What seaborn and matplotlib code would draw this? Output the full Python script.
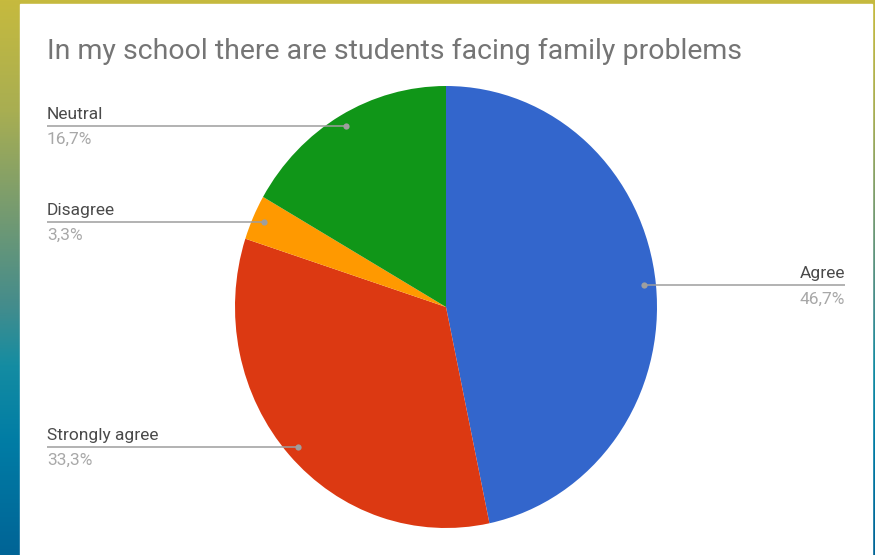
import numpy as np
import matplotlib
matplotlib.use("Agg")
import matplotlib.pyplot as plt
from matplotlib.colors import LinearSegmentedColormap
from matplotlib.patches import Rectangle
import seaborn as sns

# data
categories = ["Agree", "Strongly agree", "Disagree", "Neutral"]
shares = [46.7, 33.3, 3.3, 16.7]
pct_labels = ["46,7%", "33,3%", "3,3%", "16,7%"]
colors = ["#3366cc", "#dc3912", "#ff9900", "#109618"]
title = "In my school there are students facing family problems"

sns.set_theme(style="white")
plt.rcParams['font.family'] = ['Roboto', 'DejaVu Sans']

W, H = 875, 555
fig = plt.figure(figsize=(W / 100, H / 100), dpi=100)

# gradient frame behind the white chart area
bg = fig.add_axes([0, 0, 1, 1], zorder=0)
grad = LinearSegmentedColormap.from_list("frame", [
    (0.0, (198/255, 186/255, 62/255)),
    (0.2, (168/255, 174/255, 82/255)),
    (0.38, (118/255, 155/255, 112/255)),
    (0.55, (68/255, 140/255, 140/255)),
    (0.66, (20/255, 140/255, 162/255)),
    (0.8, (0/255, 124/255, 165/255)),
    (1.0, (0/255, 100/255, 150/255)),
])
bg.imshow(np.linspace(0, 1, 256).reshape(-1, 1), aspect="auto", cmap=grad,
          extent=[0, W, H, 0])
bg.add_patch(Rectangle((20, 4), 852, H - 4, color="white"))
bg.set_xlim(0, W)
bg.set_ylim(H, 0)
bg.axis("off")

# pie axes, placed in pixels (slightly elliptical like the reference)
px0, py0, px1, py1 = 235, 86, 657, 528
ax = fig.add_axes([px0 / W, 1 - py1 / H, (px1 - px0) / W, (py1 - py0) / H], zorder=1)
wedges, _ = ax.pie(shares, colors=colors, startangle=90, counterclock=False,
                   wedgeprops=dict(linewidth=0))
ax.set_xlim(-1, 1)
ax.set_ylim(-1, 1)
ax.set_aspect("auto")
ax.axis("off")

# overlay in pixel coords for labels
ov = fig.add_axes([0, 0, 1, 1], zorder=2)
ov.set_xlim(0, W)
ov.set_ylim(H, 0)
ov.patch.set_alpha(0)
ov.axis("off")

ov.text(47, 51, title, fontsize=20.5, color="#757575", va="center", ha="left")

to_px = ax.transData + ov.transData.inverted()
for w, cat, pct in zip(wedges, categories, pct_labels):
    theta = np.deg2rad((w.theta1 + w.theta2) / 2)
    x, y = to_px.transform((0.945 * np.cos(theta), 0.945 * np.sin(theta)))
    if x > (px0 + px1) / 2:
        lx, ha = 845, "right"
    else:
        lx, ha = 47, "left"
    ov.plot([lx, x], [y, y], color="#9e9e9e", lw=1.1, solid_capstyle="butt")
    ov.plot(x, y, "o", color="#9e9e9e", ms=4.5, mec="none")
    ov.text(lx, y - 4, cat, fontsize=12.5, color="#4a4a4a", ha=ha, va="bottom")
    ov.text(lx, y + 6, pct, fontsize=12.5, color="#a8a8a8", ha=ha, va="top")

fig.savefig("out.png", dpi=100)
